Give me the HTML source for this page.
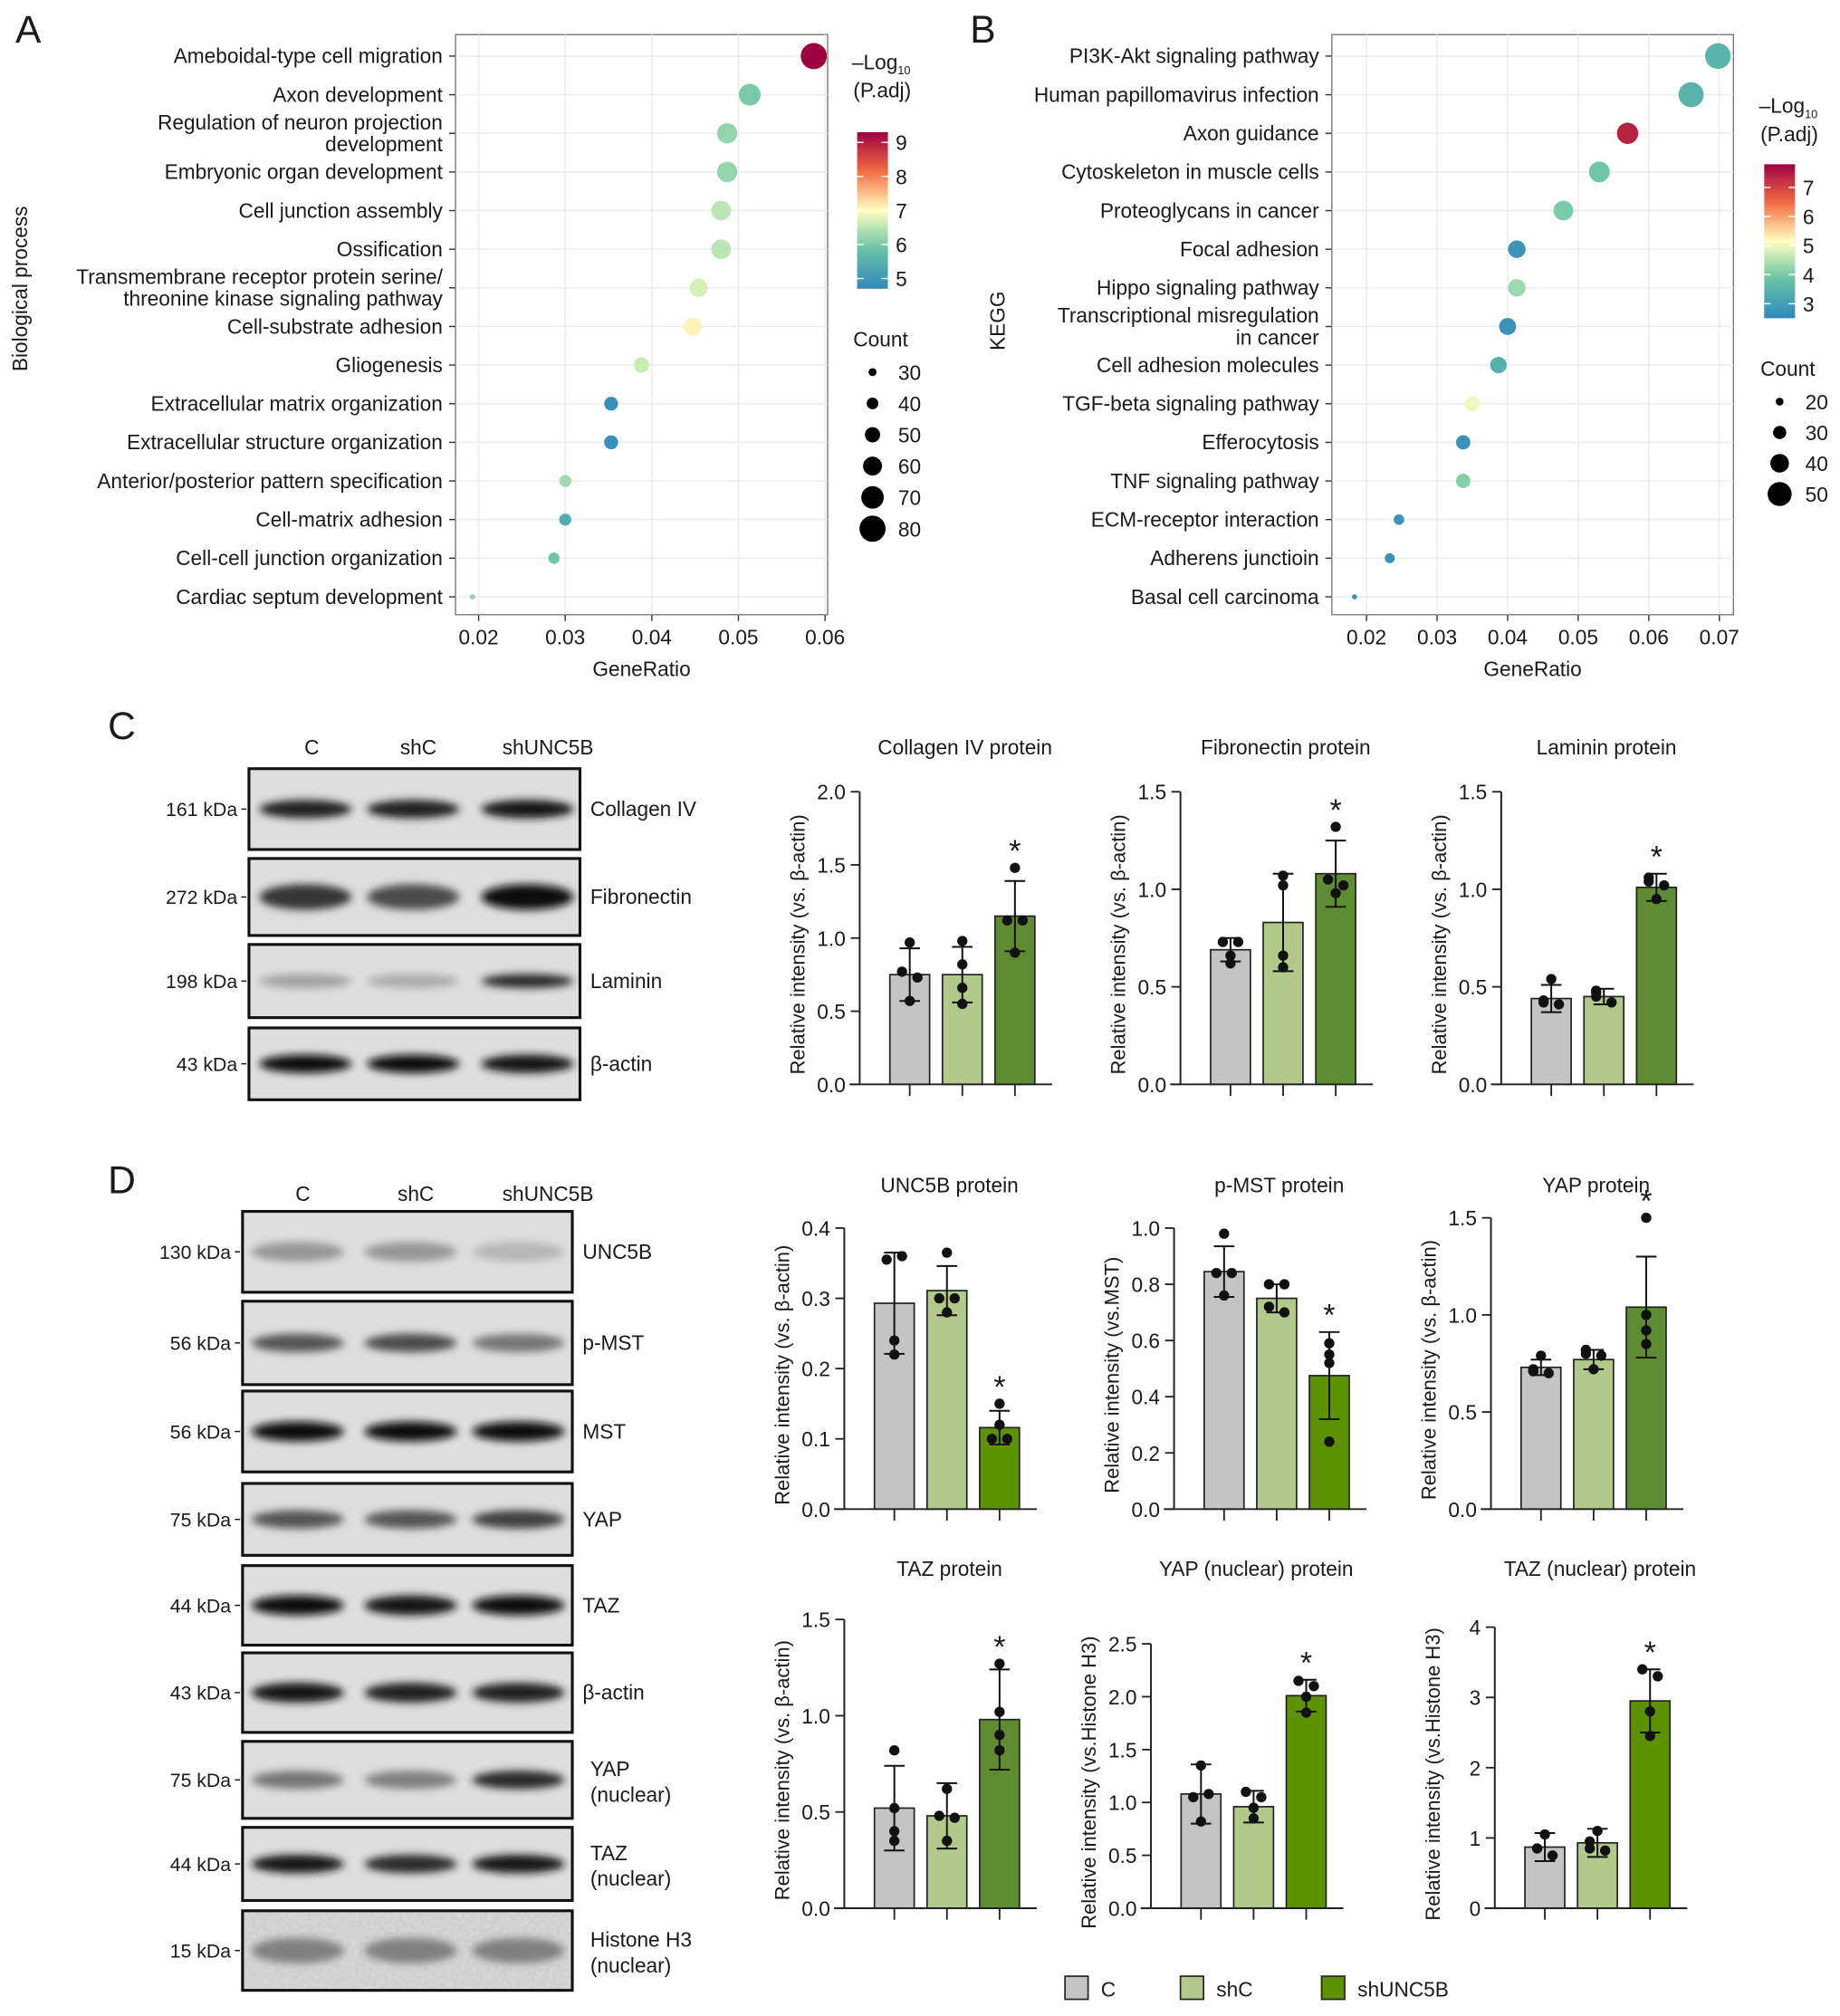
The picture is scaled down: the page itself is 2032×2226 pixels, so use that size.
<!DOCTYPE html>
<html><head><meta charset="utf-8"><style>
html,body{margin:0;padding:0;background:#fff}
svg{display:block}
text{font-family:"Liberation Sans",Arial,sans-serif;fill:#1a1a1a}
</style></head><body>
<svg id="fig" xmlns="http://www.w3.org/2000/svg" width="2032" height="2226" viewBox="0 0 1434 1571">
<defs>
<filter id="blur3" x="-30%" y="-80%" width="160%" height="260%"><feGaussianBlur stdDeviation="3.2"/></filter>
<filter id="noise" x="0" y="0" width="1" height="1"><feTurbulence type="fractalNoise" baseFrequency="0.35" numOctaves="2" seed="4"/><feColorMatrix values="0 0 0 0 0.35  0 0 0 0 0.35  0 0 0 0 0.35  0 0 0 0.5 0"/></filter>
<linearGradient id="cbA" x1="0" y1="1" x2="0" y2="0"></linearGradient>
<linearGradient id="cbB" x1="0" y1="1" x2="0" y2="0"></linearGradient>
</defs>
</svg>
<script>
// ---------- Panel A data ----------
const bpTerms = ["Ameboidal-type cell migration","Axon development","Regulation of neuron projection|development","Embryonic organ development","Cell junction assembly","Ossification","Transmembrane receptor protein serine/|threonine kinase signaling pathway","Cell-substrate adhesion","Gliogenesis","Extracellular matrix organization","Extracellular structure organization","Anterior/posterior pattern specification","Cell-matrix adhesion","Cell-cell junction organization","Cardiac septum development"];
const bpRatio = [0.0587,0.0513,0.0487,0.0487,0.0480,0.0480,0.0454,0.0447,0.0388,0.0353,0.0353,0.0300,0.0300,0.0287,0.0193];
const bpLogP = [9.3,6.0,6.2,6.2,6.5,6.5,6.7,7.1,6.6,4.8,4.8,6.3,5.4,5.9,6.2];
const bpCount = [80,68,64,64,62,62,58,57,50,46,46,41,41,39,23];
const bpXTicks = [0.02,0.03,0.04,0.05,0.06];
const bpColorTicks = [5,6,7,8,9];
const bpSizeTicks = [30,40,50,60,70,80];
// ---------- Panel B data ----------
const keggTerms = ["PI3K-Akt signaling pathway","Human papillomavirus infection","Axon guidance","Cytoskeleton in muscle cells","Proteoglycans in cancer","Focal adhesion","Hippo signaling pathway","Transcriptional misregulation|in cancer","Cell adhesion molecules","TGF-beta signaling pathway","Efferocytosis","TNF signaling pathway","ECM-receptor interaction","Adherens junctioin","Basal cell carcinoma"];
const keggRatio = [0.0698,0.0660,0.0570,0.0530,0.0479,0.0413,0.0413,0.0400,0.0387,0.0350,0.0337,0.0337,0.0246,0.0233,0.0183];
const keggLogP = [3.5,3.5,7.4,3.9,4.0,2.8,4.3,2.7,3.4,5.0,2.7,4.1,2.8,2.7,2.7];
const keggCount = [53,52,45,44,42,38,38,37,36,33,32,32,25,24,15];
const keggXTicks = [0.02,0.03,0.04,0.05,0.06,0.07];
const keggColorTicks = [3,4,5,6,7];
const keggSizeTicks = [20,30,40,50];
// ---------- Bar chart data ----------
const groups = ["C","shC","shUNC5B"];
const colMeans = [0.75,0.75,1.15], colErr=[0.18,0.19,0.24], colPts=[[0.97,0.77,0.73,0.57],[0.98,0.82,0.66,0.55],[1.48,1.12,1.12,0.90]];
const fnMeans = [0.69,0.83,1.08], fnErr=[0.06,0.25,0.17], fnPts=[[0.73,0.73,0.66,0.62],[1.07,1.02,0.66,0.60],[1.32,1.05,1.02,0.98]];
const lmMeans = [0.44,0.45,1.01], lmErr=[0.07,0.04,0.07], lmPts=[[0.54,0.43,0.42,0.41],[0.48,0.47,0.45,0.42],[1.06,1.04,1.02,0.95]];
const uncMeans = [0.293,0.311,0.116], uncErr=[0.072,0.035,0.024], uncPts=[[0.355,0.36,0.24,0.22],[0.365,0.30,0.30,0.28],[0.15,0.12,0.10,0.10]];
const pmMeans = [0.845,0.75,0.475], pmErr=[0.09,0.05,0.155], pmPts=[[0.98,0.84,0.84,0.76],[0.80,0.80,0.72,0.70],[0.59,0.55,0.52,0.24]];
const yapMeans = [0.73,0.77,1.04], yapErr=[0.04,0.05,0.26], yapPts=[[0.79,0.72,0.71,0.70],[0.82,0.80,0.79,0.72],[1.50,1.00,0.92,0.85]];
const tazMeans = [0.52,0.48,0.98], tazErr=[0.22,0.17,0.26], tazPts=[[0.82,0.52,0.40,0.35],[0.62,0.48,0.47,0.35],[1.27,1.02,0.90,0.82]];
const ynMeans = [1.08,0.96,2.01], ynErr=[0.28,0.15,0.15], ynPts=[[1.35,1.05,1.08,0.82],[1.10,1.05,0.95,0.85],[2.15,2.10,2.00,1.85]];
const tnMeans = [0.87,0.93,2.95], tnErr=[0.20,0.20,0.45], tnPts=[[1.05,0.85,0.85,0.75],[1.10,0.95,0.85,0.82],[3.40,3.30,2.80,2.45]];
// ---------- Blot band intensities (C, shC, shUNC5B) ----------
const blotC = [["Collagen IV","161 kDa",[0.9,0.9,0.95],13],["Fibronectin","272 kDa",[0.8,0.7,1.0],18],["Laminin","198 kDa",[0.3,0.25,0.85],10],["β-actin","43 kDa",[1.0,1.0,0.95],13]];
const blotD = [["UNC5B","130 kDa",[0.35,0.35,0.2],14],["p-MST","56 kDa",[0.65,0.7,0.5],13],["MST","56 kDa",[1.0,1.0,1.0],14],["YAP","75 kDa",[0.65,0.65,0.75],13],["TAZ","44 kDa",[1.0,0.95,1.0],14],["β-actin","43 kDa",[0.95,0.9,0.9],14],["YAP|(nuclear)","75 kDa",[0.5,0.45,0.85],13],["TAZ|(nuclear)","44 kDa",[0.95,0.85,0.95],13],["Histone H3|(nuclear)","15 kDa",[0.45,0.45,0.45],18]];

const NS="http://www.w3.org/2000/svg";
const svg=document.getElementById('fig');
function el(tag,attrs,parent){const e=document.createElementNS(NS,tag);for(const k in attrs)e.setAttribute(k,attrs[k]);(parent||svg).appendChild(e);return e;}
function txt(s,x,y,size,anchor,parent,extra){const t=el('text',Object.assign({x:x,y:y,'font-size':size,'text-anchor':anchor||'start'},extra||{}),parent);t.textContent=s;return t;}

const spectral=["#3288bd","#66c2a5","#ffffbf","#f46d43","#9e0142"];
function hex(c){return [1,3,5].map(i=>parseInt(c.substr(i,2),16));}
function cmap(t){t=Math.max(0,Math.min(1,t));const p=t*(spectral.length-1);const i=Math.min(Math.floor(p),spectral.length-2);const f=p-i;const a=hex(spectral[i]),b=hex(spectral[i+1]);return 'rgb('+a.map((v,k)=>Math.round(v+(b[k]-v)*f)).join(',')+')';}
['cbA','cbB'].forEach(id=>{const g=document.getElementById(id);for(let i=0;i<=20;i++){el('stop',{offset:i/20,'stop-color':cmap(i/20)},g);}});

function dotPlot(o){
  const g=el('g',{});
  
  
  const {L,R,T,B,x0,x1,px0,px1}=o;
  const sx=v=>px0+(v-x0)/(x1-x0)*(px1-px0);
  const rowY=i=>43.7+i*30.1;
  el('rect',{x:L,y:T,width:R-L,height:B-T,fill:'#fff',stroke:'#7a7a7a','stroke-width':1},g);
  o.xt.forEach(v=>{el('line',{x1:sx(v),x2:sx(v),y1:T,y2:B,stroke:'#ebebeb','stroke-width':1},g);});
  o.terms.forEach((s,i)=>{el('line',{x1:L,x2:R,y1:rowY(i),y2:rowY(i),stroke:'#ebebeb','stroke-width':1},g);});
  o.terms.forEach((s,i)=>{
    const y=rowY(i);
    el('line',{x1:L-5,x2:L,y1:y,y2:y,stroke:'#333'},g);
    const parts=s.split('|');
    let t;
    if(parts.length===1){t=txt(s,L-10,y+5.5,16,'end',g);}
    else{t=txt(parts[0],L-10,y-3,16,'end',g);txt(parts[1],L-10,y+14,16,'end',g);}
    
    
  });
  o.xt.forEach(v=>{el('line',{x1:sx(v),x2:sx(v),y1:B,y2:B+5,stroke:'#333'},g);txt(v.toFixed(2),sx(v),B+23,16,'middle',g);});
  const xl=txt('GeneRatio',(L+R)/2,B+48,16,'middle',g);
  
  
  const yl=txt(o.ylab,0,0,16,'middle',g,{transform:`translate(${o.ylx},${o.yly}) rotate(-90)`});
  
  
  const rad=c=>o.r0+(c-o.c0)/(o.c1-o.c0)*(o.r1-o.r0);
  o.ratio.forEach((v,i)=>{
    const c=el('circle',{cx:sx(v),cy:rowY(i),r:rad(o.count[i]),fill:cmap((o.logp[i]-o.lp0)/(o.lp1-o.lp0))},g);
    
    
  });
  const lt=txt('–Log',o.cbx-4,o.cbTitleY,16,'start',g);
  const sub=el('tspan',{'font-size':9,dy:4},lt);sub.textContent='10';
  txt('(P.adj)',o.cbx-3,o.cbTitleY+22,16,'start',g);
  const cb=el('rect',{x:o.cbx,y:o.cbT,width:24,height:o.cbB-o.cbT,fill:'url(#'+o.grad+')'},g);
  
  
  const cy=v=>o.cbB-(v-o.lp0)/(o.lp1-o.lp0)*(o.cbB-o.cbT);
  o.ct.forEach(v=>{el('line',{x1:o.cbx,x2:o.cbx+5,y1:cy(v),y2:cy(v),stroke:'#fff'},g);el('line',{x1:o.cbx+19,x2:o.cbx+24,y1:cy(v),y2:cy(v),stroke:'#fff'},g);txt(String(v),o.cbx+30,cy(v)+6,16,'start',g);});
  txt('Count',o.cbx-3,o.cntY,16,'start',g);
  o.st.forEach((v,i)=>{const y=o.cntY+20+i*o.cntStep;const c=el('circle',{cx:o.cbx+12,cy:y,r:rad(v),fill:'#000'},g);txt(String(v),o.cbx+32,y+6,16,'start',g);});
}
dotPlot({name:'bp-dotplot',terms:bpTerms,ratio:bpRatio,logp:bpLogP,count:bpCount,xt:bpXTicks,ct:bpColorTicks,st:bpSizeTicks,
  L:355,R:645,T:27,B:479,x0:0.02,x1:0.06,px0:373,px1:643,r0:2,r1:10.2,c0:22,c1:80,lp0:4.7,lp1:9.3,
  ylab:'Biological process',ylx:21,yly:225,cbx:668,cbT:103,cbB:225,cbTitleY:54,grad:'cbA',cntY:270,cntStep:24.4});
dotPlot({name:'kegg-dotplot',terms:keggTerms,ratio:keggRatio,logp:keggLogP,count:keggCount,xt:keggXTicks,ct:keggColorTicks,st:keggSizeTicks,
  L:1038,R:1351,T:27,B:479,x0:0.02,x1:0.07,px0:1065,px1:1340,r0:2,r1:10,c0:15,c1:53,lp0:2.5,lp1:7.8,
  ylab:'KEGG',ylx:783,yly:250,cbx:1375,cbT:128,cbB:248,cbTitleY:88,grad:'cbB',cntY:293,cntStep:24});

[['A',12,33],['B',756,33],['C',84,576],['D',84,930]].forEach(a=>{const t=txt(a[0],a[1],a[2],30,'start');});

// ---------- blots ----------
function blots(o){
  const g=el('g',{});
  
  
  o.heads.forEach((h,i)=>txt(h,o.hx[i],o.hy,16,'middle',g));
  o.rows.forEach((r,i)=>{
    const [y0,y1]=o.ys[i];const cy=(y0+y1)/2;
    const rg=el('g',{},g);
    
    
    el('rect',{x:o.L,y:y0,width:o.R-o.L,height:y1-y0,fill:'#dedede'},rg);
    if(r[0].startsWith('Histone'))el('rect',{x:o.L,y:y0,width:o.R-o.L,height:y1-y0,filter:'url(#noise)',opacity:0.7},rg);
    r[2].forEach((v,k)=>{const c=Math.round(225-v*215);el('ellipse',{cx:o.lanes[k],cy:cy,rx:36,ry:r[3]*0.55,fill:`rgb(${c},${c},${c})`,filter:'url(#blur3)'},rg);});
    el('rect',{x:o.L,y:y0,width:o.R-o.L,height:y1-y0,fill:'none',stroke:'#111','stroke-width':2.2},rg);
    txt(r[1],o.L-9,cy+5.5,15,'end',rg);
    el('line',{x1:o.L-6,x2:o.L-2,y1:cy,y2:cy,stroke:'#111'},rg);
    const p=r[0].split('|');
    if(p.length===1)txt(p[0],o.R+8,cy+5.5,16,'start',rg);
    else{txt(p[0],o.R+14,cy-3,16,'start',rg);txt(p[1],o.R+14,cy+17,16,'start',rg);}
  });
}
blots({name:'blots-c',rows:blotC,L:194,R:452,lanes:[238,322,411],heads:groups,hx:[243,326,427],hy:588,
  ys:[[599,662],[669,729],[736,793],[801,857]]});
blots({name:'blots-d',rows:blotD,L:189,R:446,lanes:[232,320,404],heads:groups,hx:[236,324,427],hy:936,
  ys:[[944,1007],[1014,1079],[1084,1147],[1156,1212],[1220,1282],[1288,1350],[1357,1417],[1424,1481],[1489,1551]]});

// ---------- bar charts ----------
const barFill=["#c4c4c4","#b3c98c","#5f8c32"];
function barChart(o){
  const g=el('g',{});
  
  
  const sy=v=>o.y0-v/o.ymax*(o.y0-o.yTop);
  const cx=i=>o.ax+39+i*41;
  const tt=txt(o.title,o.ax+82,o.titleY,16,'middle',g);
  
  
  o.means.forEach((m,i)=>{
    const b=el('rect',{x:cx(i)-15.5,y:sy(m),width:31,height:o.y0-sy(m),fill:i==2?o.dark:barFill[i],stroke:'#222','stroke-width':1.2},g);
    
    
    const e=o.errs[i];
    el('line',{x1:cx(i),x2:cx(i),y1:sy(m-e),y2:sy(m+e),stroke:'#111','stroke-width':1.4},g);
    [m-e,m+e].forEach(v=>el('line',{x1:cx(i)-8,x2:cx(i)+8,y1:sy(v),y2:sy(v),stroke:'#111','stroke-width':1.4},g));
    const sorted=o.pts[i];
    sorted.forEach((v,k)=>{
      let dx=0;
      sorted.forEach((w,j)=>{if(j!==k&&Math.abs(w-v)/o.ymax*(o.y0-o.yTop)<6)dx=(j<k?6:-6);});
      const p=el('circle',{cx:cx(i)+dx,cy:sy(v),r:4,fill:'#111'},g);
      
      
    });
    el('line',{x1:cx(i),x2:cx(i),y1:o.y0,y2:o.y0+9,stroke:'#222','stroke-width':1.3},g);
  });
  const top=Math.max(...o.pts[2],o.means[2]+o.errs[2]);
  txt('*',cx(2),sy(top)-5,24,'middle',g);
  el('line',{x1:o.ax,x2:o.ax,y1:o.yTop,y2:o.y0,stroke:'#222','stroke-width':1.4},g);
  el('line',{x1:o.ax-8,x2:o.ax+150,y1:o.y0,y2:o.y0,stroke:'#222','stroke-width':1.4},g);
  o.ticks.forEach(v=>{el('line',{x1:o.ax-7,x2:o.ax,y1:sy(v),y2:sy(v),stroke:'#222','stroke-width':1.3},g);txt(v.toFixed(o.dec),o.ax-11,sy(v)+6,16,'end',g);});
  const yl=txt(o.ylab,0,0,15.5,'middle',g,{transform:`translate(${o.ax-43},${(o.y0+o.yTop)/2+5}) rotate(-90)`});
  
  
}
const dC="#5f8c32", dD="#5d9200";
const ba="Relative intensity (vs. β-actin)";
barChart({name:'collagen-iv-chart',title:'Collagen IV protein',titleY:588,ax:670,y0:845,yTop:617,ymax:2.0,ticks:[0,0.5,1.0,1.5,2.0],dec:1,means:colMeans,errs:colErr,pts:colPts,ylab:ba,dark:dC});
barChart({name:'fibronectin-chart',title:'Fibronectin protein',titleY:588,ax:920,y0:845,yTop:617,ymax:1.5,ticks:[0,0.5,1.0,1.5],dec:1,means:fnMeans,errs:fnErr,pts:fnPts,ylab:ba,dark:dC});
barChart({name:'laminin-chart',title:'Laminin protein',titleY:588,ax:1170,y0:845,yTop:617,ymax:1.5,ticks:[0,0.5,1.0,1.5],dec:1,means:lmMeans,errs:lmErr,pts:lmPts,ylab:ba,dark:dC});
barChart({name:'unc5b-chart',title:'UNC5B protein',titleY:929,ax:658,y0:1176,yTop:957,ymax:0.4,ticks:[0,0.1,0.2,0.3,0.4],dec:1,means:uncMeans,errs:uncErr,pts:uncPts,ylab:ba,dark:dD});
barChart({name:'p-mst-chart',title:'p-MST protein',titleY:929,ax:915,y0:1176,yTop:957,ymax:1.0,ticks:[0,0.2,0.4,0.6,0.8,1.0],dec:1,means:pmMeans,errs:pmErr,pts:pmPts,ylab:'Relative intensity (vs.MST)',dark:dD});
barChart({name:'yap-chart',title:'YAP protein',titleY:929,ax:1162,y0:1176,yTop:949,ymax:1.5,ticks:[0,0.5,1.0,1.5],dec:1,means:yapMeans,errs:yapErr,pts:yapPts,ylab:ba,dark:'#5f8c32'});
barChart({name:'taz-chart',title:'TAZ protein',titleY:1228,ax:658,y0:1487,yTop:1262,ymax:1.5,ticks:[0,0.5,1.0,1.5],dec:1,means:tazMeans,errs:tazErr,pts:tazPts,ylab:ba,dark:dC});
barChart({name:'yap-nuclear-chart',title:'YAP (nuclear) protein',titleY:1228,ax:897,y0:1487,yTop:1281,ymax:2.5,ticks:[0,0.5,1.0,1.5,2.0,2.5],dec:1,means:ynMeans,errs:ynErr,pts:ynPts,ylab:'Relative intensity (vs.Histone H3)',dark:dD});
barChart({name:'taz-nuclear-chart',title:'TAZ (nuclear) protein',titleY:1228,ax:1165,y0:1487,yTop:1268,ymax:4,ticks:[0,1,2,3,4],dec:0,means:tnMeans,errs:tnErr,pts:tnPts,ylab:'Relative intensity (vs.Histone H3)',dark:dD});

const lg=el('g',{});


[[830,"C","#c4c4c4"],[920,"shC","#b3c98c"],[1030,"shUNC5B","#5d9200"]].forEach(l=>{
  const r=el('rect',{x:l[0],y:1540,width:18,height:18,fill:l[2],stroke:'#222','stroke-width':1.2},lg);
  
  
  txt(l[1],l[0]+28,1556,16,'start',lg);
});
</script>
</body></html>
